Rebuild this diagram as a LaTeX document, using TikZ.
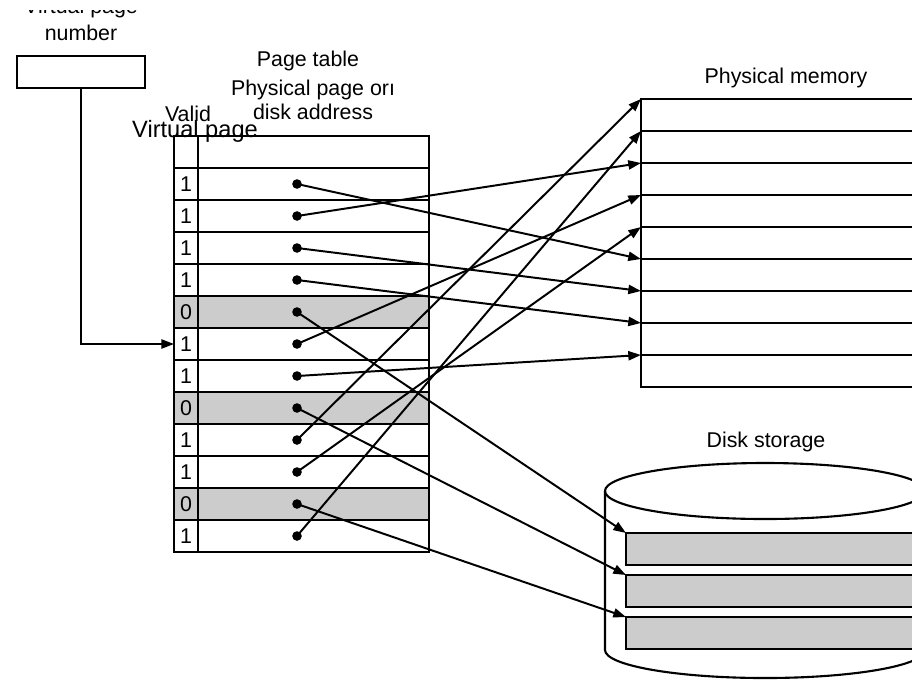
\documentclass[tikz,border=0pt]{standalone}
\usepackage{fontspec}
\setmainfont{Liberation Sans}
\usetikzlibrary{positioning,calc,arrows.meta}
\definecolor{pgray}{RGB}{204,204,204}

\begin{document}
\begin{tikzpicture}[x=0.025cm,y=-0.025cm,
    lbl/.style={font=\fontsize{15.2}{18.5}\selectfont, inner sep=0pt},
    box/.style={draw, line width=1.5pt, inner sep=0pt, outer sep=0pt, minimum height=0.8cm},
    vcell/.style={box, minimum width=0.6cm, font=\fontsize{15.2}{18}\selectfont},
    acell/.style={box, minimum width=5.775cm},
    mslot/.style={box, minimum width=7.225cm},
    dslot/.style={box, minimum width=7.6cm, fill=pgray},
    dot/.style={circle, fill, inner sep=0pt, minimum size=0.24cm},
    ptr/.style={line width=1.4pt, -{Triangle[length=9pt,width=6.5pt]}}]
\useasboundingbox (0,0) rectangle (912,679);
\clip (0,0) rectangle (912,679);

% labels
\begin{scope}
  \clip (0,10) rectangle (300,60);
  \node[lbl, align=center, anchor=base] (vpnlbl) at (81,40) {Virtual page\\number};
\end{scope}
\node[lbl, anchor=base] (ptitle) at (308,66) {Page table};
\node[lbl, align=center, anchor=base, font=\fontsize{15.2}{17}\selectfont] (phead) at (313,119) {Physical page orı\\disk address};
\node[lbl, anchor=base] (vhead) at (188,121) {Valid};
\node[lbl, anchor=base] (memlbl) at (786,83) {Physical memory};
\node[lbl, anchor=base] (disklbl) at (766,447) {Disk storage};

% virtual page number register
\node[box, minimum width=3.2cm] (vpn) at (81,72) {};

% page table
\node[vcell] (v0) at (186,152) {};
\node[acell] (a0) at (313.5,152) {};
\foreach \i/\b/\f in {1/1/white,2/1/white,3/1/white,4/1/white,5/0/pgray,6/1/white,
                      7/1/white,8/0/pgray,9/1/white,10/1/white,11/0/pgray,12/1/white}{
  \node[vcell, fill=\f] (v\i) at (186,{152+32*\i}) {\b};
  \node[acell, fill=\f] (a\i) at (313.5,{152+32*\i}) {};
  \node[dot] (d\i) at (297,{152+32*\i}) {};
}
\node[font=\fontsize{16.8}{20}\selectfont, inner sep=0pt, anchor=base] (vplbl) at (195,137) {Virtual page};

% physical memory
\foreach \j in {0,...,8}
  \node[mslot] (m\j) at (785.5,{115+32*\j}) {};

% disk storage
\draw[line width=1.5pt] (605,491) -- (605,650)
  arc[start angle=180, end angle=360, x radius=4cm, y radius=0.7cm] -- (925,491);
\draw[line width=1.5pt] (765,491) ellipse[x radius=4cm, y radius=0.7cm];
\foreach \k/\y in {1/549,2/591,3/633}
  \node[dslot] (s\k) at (778,\y) {};

% pointers
\draw[ptr] (vpn.south) |- (v6.west);
\foreach \i/\j in {1/5,2/2,3/6,4/7,6/3,7/8,9/0,10/4,12/1}
  \draw[ptr] (d\i.center) -- (m\j.north west);
\foreach \i/\k in {5/1,8/2,11/3}
  \draw[ptr] (d\i.center) -- (s\k.north west);
\end{tikzpicture}
\end{document}
